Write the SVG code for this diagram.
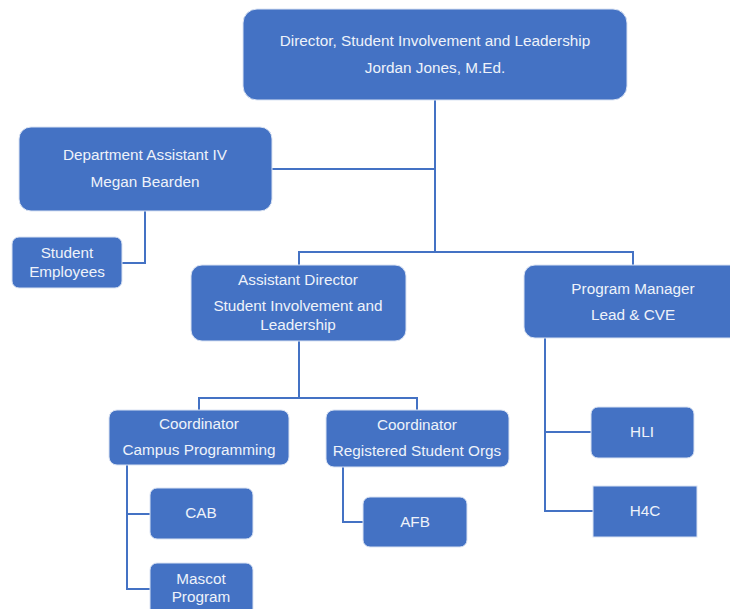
<svg xmlns="http://www.w3.org/2000/svg" width="730" height="609" viewBox="0 0 730 609">
<style>
.box{fill:#4472C4;stroke:#DAE3F3;stroke-width:1}
.t{font-family:"Liberation Sans",Arial,sans-serif;font-size:15.3px;fill:#EEF2FA;text-anchor:middle}
.c{fill:none;stroke:#4472C4;stroke-width:2}
</style>
<rect width="730" height="609" fill="#FFFFFF"/>
<g id="connectors">
<path class="c" d="M435,100 V252"/>
<path class="c" d="M272,169 H435"/>
<path class="c" d="M299,265 V252 H633 V265"/>
<path class="c" d="M145,211 V263 H122"/>
<path class="c" d="M299,341 V398"/>
<path class="c" d="M199,410 V398 H417 V410"/>
<path class="c" d="M127,465 V589 H150"/>
<path class="c" d="M127,514 H150"/>
<path class="c" d="M343,467 V522 H363"/>
<path class="c" d="M545,338 V511 H593"/>
<path class="c" d="M545,432 H591"/>
</g>
<g id="director">
<rect class="box" x="243" y="9" width="384" height="91" rx="14"/>
<text class="t" x="435" y="46">Director, Student Involvement and Leadership</text>
<text class="t" x="435" y="73">Jordan Jones, M.Ed.</text>
</g>
<g id="dept-assistant">
<rect class="box" x="19" y="127" width="253" height="84" rx="12"/>
<text class="t" x="145" y="160">Department Assistant IV</text>
<text class="t" x="145" y="187">Megan Bearden</text>
</g>
<g id="student-employees">
<rect class="box" x="12" y="237" width="110" height="51" rx="7"/>
<text class="t" x="67" y="258">Student</text>
<text class="t" x="67" y="277">Employees</text>
</g>
<g id="assistant-director">
<rect class="box" x="191" y="265" width="215" height="76" rx="11"/>
<text class="t" x="298" y="285">Assistant Director</text>
<text class="t" x="298" y="311">Student Involvement and</text>
<text class="t" x="298" y="330">Leadership</text>
</g>
<g id="program-manager">
<rect class="box" x="524" y="265" width="222" height="73" rx="11"/>
<text class="t" x="633" y="294">Program Manager</text>
<text class="t" x="633" y="320">Lead &amp; CVE</text>
</g>
<g id="coord-campus">
<rect class="box" x="109" y="410" width="180" height="55" rx="8"/>
<text class="t" x="199" y="429">Coordinator</text>
<text class="t" x="199" y="455">Campus Programming</text>
</g>
<g id="coord-rso">
<rect class="box" x="326" y="410" width="183" height="57" rx="8"/>
<text class="t" x="417" y="430">Coordinator</text>
<text class="t" x="417" y="456">Registered Student Orgs</text>
</g>
<g id="cab">
<rect class="box" x="150" y="488" width="103" height="51" rx="7"/>
<text class="t" x="201" y="518">CAB</text>
</g>
<g id="mascot">
<rect class="box" x="150" y="563" width="103" height="56" rx="7"/>
<text class="t" x="201" y="584">Mascot</text>
<text class="t" x="201" y="602">Program</text>
</g>
<g id="afb">
<rect class="box" x="363" y="497" width="104" height="50" rx="7"/>
<text class="t" x="415" y="527">AFB</text>
</g>
<g id="hli">
<rect class="box" x="591" y="407" width="103" height="51" rx="7"/>
<text class="t" x="642" y="437">HLI</text>
</g>
<g id="h4c">
<rect class="box" x="593" y="486" width="104" height="51"/>
<text class="t" x="645" y="516">H4C</text>
</g>
</svg>
